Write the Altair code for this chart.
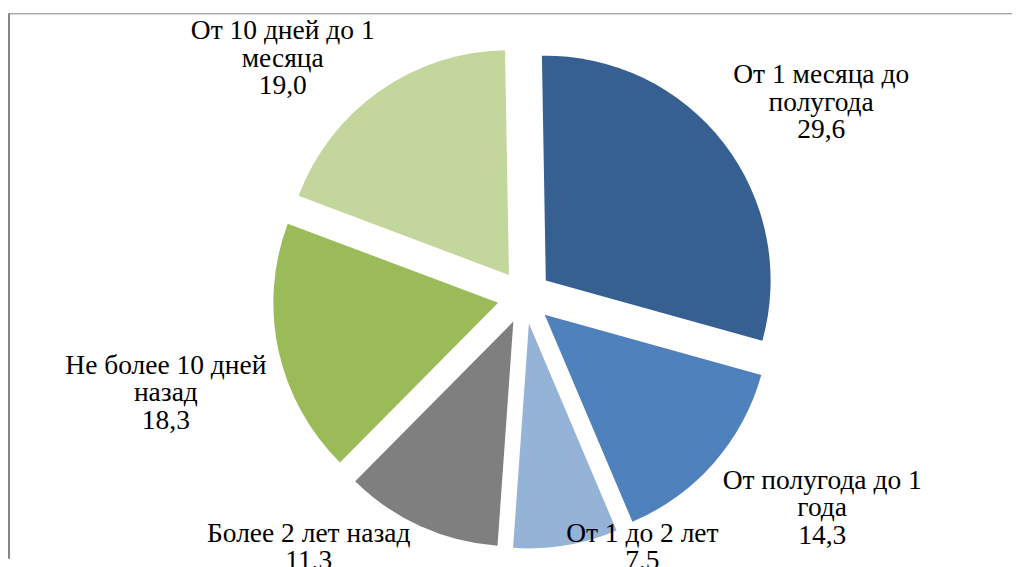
import math
import altair as alt
import pandas as pd

# ---- data ----
categories = [
    "От 1 месяца до полугода",
    "От полугода до 1 года",
    "От 1 до 2 лет",
    "Более 2 лет назад",
    "Не более 10 дней назад",
    "От 10 дней до 1 месяца",
]
values = [29.6, 14.3, 7.5, 11.3, 18.3, 19.0]
label_lines = [
    ["От 1 месяца до", "полугода"],
    ["От полугода до 1", "года"],
    ["От 1 до 2 лет"],
    ["Более 2 лет назад"],
    ["Не более 10 дней", "назад"],
    ["От 10 дней до 1", "месяца"],
]
colors = ["#376092", "#4F81BD", "#95B3D7", "#7F7F7F", "#9BBB59", "#C3D69B"]

# ---- layout ----
W, H = 1005, 551
CX, CY = 517, 289          # pie centre inside the view (px)
R = 225                    # outer radius
EXPLODE = 27               # slice explosion distance
ROT = math.radians(-1.0)   # start angle rotation
FONT = "Liberation Serif"
FS = 27.5
LH = 27.5
# first-line centres of the labels relative to the pie centre (px, y up)
label_offsets = [(297, 222), (298, -184), (118, -237), (-216, -237), (-359, -69), (-242, 266)]

starts, acc = [], 0.0
for v in values:
    starts.append(acc)
    acc += v
ends = [s + v for s, v in zip(starts, values)]

df = pd.DataFrame({
    "category": categories,
    "value": values,
    "start": starts,
    "end": ends,
})

lab = pd.DataFrame({
    "category": categories,
    "label": ["\n".join(lines + [f"{v:.1f}".replace(".", ",")]) for lines, v in zip(label_lines, values)],
    "lx": [o[0] for o in label_offsets],
    "ly": [o[1] for o in label_offsets],
})

xs = alt.Scale(domain=[-CX, W - CX], nice=False, zero=False)
ys = alt.Scale(domain=[CY - H, CY], nice=False, zero=False)
ts = alt.Scale(domain=[0, 100], range=[ROT, 2 * math.pi + ROT])

arcs = alt.Chart(df).transform_calculate(
    mid=f"((datum.start + datum.end) / 2) / 100 * 2 * PI + ({ROT})",
).transform_calculate(
    ox=f"{EXPLODE} * sin(datum.mid)",
    oy=f"{EXPLODE} * cos(datum.mid)",
).mark_arc(outerRadius=R).encode(
    theta=alt.Theta("start:Q", scale=ts),
    theta2="end:Q",
    x=alt.X("ox:Q", scale=xs, axis=None),
    y=alt.Y("oy:Q", scale=ys, axis=None),
    color=alt.Color("category:N", scale=alt.Scale(domain=categories, range=colors), legend=None),
)

labels = alt.Chart(lab).mark_text(
    font=FONT, fontSize=FS, lineHeight=LH, lineBreak="\n",
    align="center", baseline="middle", color="black",
).encode(
    x=alt.X("lx:Q", scale=xs, axis=None),
    y=alt.Y("ly:Q", scale=ys, axis=None),
    text="label:N",
)

one = pd.DataFrame({"a": [0]})
border_top = alt.Chart(one).mark_rule(color="#868686", strokeWidth=1).encode(
    x=alt.value(1), x2=alt.value(W), y=alt.value(5.5)
)
border_left = alt.Chart(one).mark_rule(color="#868686", strokeWidth=2).encode(
    x=alt.value(1), y=alt.value(5), y2=alt.value(H)
)

chart = alt.layer(arcs, labels, border_top, border_left).properties(
    width=W, height=H, padding=0, background="white"
).configure_view(stroke=None)

chart.save("out.html", embed_options={"renderer": "svg", "actions": False})
